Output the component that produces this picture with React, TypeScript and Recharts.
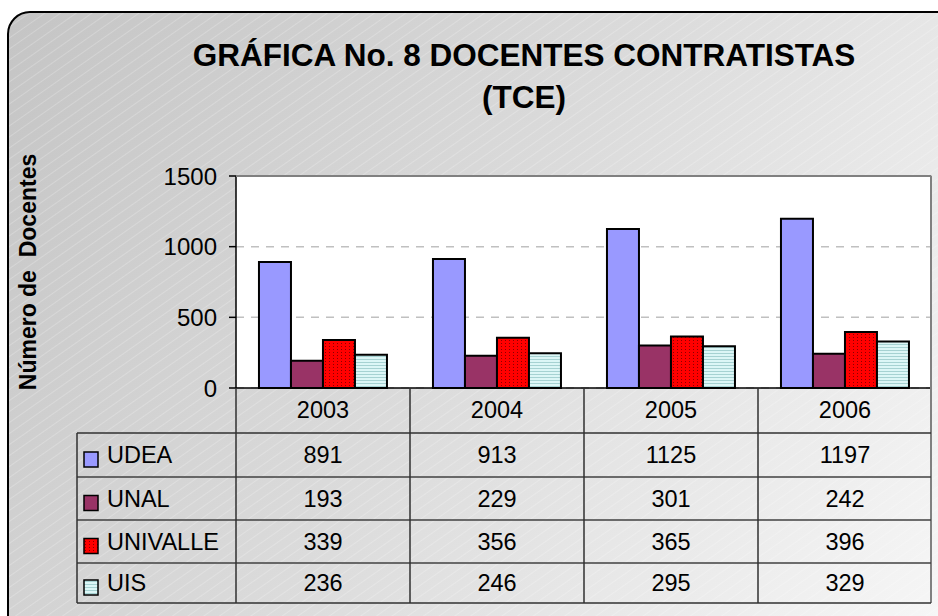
import React from 'react';
import { BarChart, Bar, XAxis, YAxis, CartesianGrid } from 'recharts';

const years = ['2003', '2004', '2005', '2006'];
const udea = [891, 913, 1125, 1197];
const unal = [193, 229, 301, 242];
const univalle = [339, 356, 365, 396];
const uis = [236, 246, 295, 329];
const yTicks = [0, 500, 1000, 1500];

const series = [
  { key: 'UDEA', values: udea, fill: '#9999ff' },
  { key: 'UNAL', values: unal, fill: '#993366' },
  { key: 'UNIVALLE', values: univalle, fill: 'url(#dots)' },
  { key: 'UIS', values: uis, fill: 'url(#hlines)' },
];

const data = years.map((year, i) => {
  const row: Record<string, string | number> = { year };
  series.forEach((s) => (row[s.key] = s.values[i]));
  return row;
});

const W = 938;
const H = 616;
const PLOT_L = 236;
const PLOT_R = 932;
const PLOT_T = 176;
const PLOT_B = 388;
const Y_W = 60;
const X_H = 30;
const TABLE_L = 77;
const ROW_Y = [433, 477, 520, 563, 603];
const FONT = '"Liberation Sans", Arial, sans-serif';

const band = (PLOT_R - PLOT_L) / years.length;

const YearTick = (props: any) => (
  <text
    x={props.x}
    y={props.y + 22}
    textAnchor="middle"
    dominantBaseline="central"
    fontFamily={FONT}
    fontSize={23.5}
    fill="#000"
  >
    {props.payload.value}
  </text>
);

const Background = () => (
  <svg width={W} height={H} style={{ position: 'absolute', left: 0, top: 0 }}>
    <defs>
      <linearGradient id="bg" gradientUnits="userSpaceOnUse" x1={0} y1={0} x2={W} y2={H}>
        <stop offset="0" stopColor="#c4c4c4" />
        <stop offset="0.5" stopColor="#dbdbdb" />
        <stop offset="1" stopColor="#f6f6f6" />
      </linearGradient>
      <pattern id="stripes" width={16} height={9} patternUnits="userSpaceOnUse" patternTransform="rotate(-35)">
        <line x1={0} y1={0.5} x2={16} y2={0.5} stroke="#ffffff" strokeOpacity={0.22} strokeWidth={1} />
      </pattern>
      <pattern id="dots" width={4} height={3} patternUnits="userSpaceOnUse">
        <rect width={4} height={3} fill="#ff0000" />
        <rect x={1} y={1} width={1} height={1} fill="#8a0000" />
      </pattern>
      <pattern id="hlines" width={4} height={3} patternUnits="userSpaceOnUse">
        <rect width={4} height={3} fill="#dcf6f6" />
        <rect x={0} y={2} width={4} height={1} fill="#a6d2d2" />
      </pattern>
    </defs>
    <rect x={8} y={12} width={W + 20} height={H + 20} rx={22} fill="url(#bg)" />
    <rect x={8} y={12} width={W + 20} height={H + 20} rx={22} fill="url(#stripes)" stroke="#000" strokeWidth={2} />
    <text x={524} y={55} textAnchor="middle" dominantBaseline="central" fontFamily={FONT} fontWeight="bold" fontSize={31.5} fill="#000">
      GRÁFICA No. 8 DOCENTES CONTRATISTAS
    </text>
    <text x={524} y={97} textAnchor="middle" dominantBaseline="central" fontFamily={FONT} fontWeight="bold" fontSize={31.5} fill="#000">
      (TCE)
    </text>
    <text
      x={28}
      y={272}
      transform="rotate(-90 28 272)"
      textAnchor="middle"
      dominantBaseline="central"
      fontFamily={FONT}
      fontWeight="bold"
      fontSize={23}
      fill="#000"
      style={{ whiteSpace: 'pre' }}
    >
      {'Número de  Docentes'}
    </text>
  </svg>
);

const DataTable = () => (
  <svg width={W} height={H} style={{ position: 'absolute', left: 0, top: 0, pointerEvents: 'none' }}>
    {/* plot frame top/right */}
    <line x1={PLOT_L} y1={PLOT_T} x2={PLOT_R - 1} y2={PLOT_T} stroke="#808080" strokeWidth={2} />
    <line x1={PLOT_R - 1} y1={PLOT_T} x2={PLOT_R - 1} y2={ROW_Y[4]} stroke="#808080" strokeWidth={2} />
    {/* row lines */}
    {ROW_Y.map((y, i) => (
      <line key={'r' + i} x1={TABLE_L} y1={y} x2={PLOT_R - 1} y2={y} stroke={i === 0 || i === 4 ? '#303030' : '#404040'} strokeWidth={1.5} />
    ))}
    <line x1={TABLE_L} y1={ROW_Y[0]} x2={TABLE_L} y2={ROW_Y[4]} stroke="#303030" strokeWidth={1.5} />
    {years.map((_, i) => (
      <line key={'c' + i} x1={PLOT_L + i * band} y1={PLOT_B} x2={PLOT_L + i * band} y2={ROW_Y[4]} stroke="#303030" strokeWidth={1.5} />
    ))}
    {series.map((s, r) => {
      const cy = (ROW_Y[r] + ROW_Y[r + 1]) / 2;
      return (
        <g key={s.key}>
          <rect x={84} y={cy - 3} width={14} height={15} fill={s.fill} stroke="#000" strokeWidth={1.5} />
          <text x={107} y={cy} dominantBaseline="central" fontFamily={FONT} fontSize={23.5} fill="#000">
            {s.key}
          </text>
          {s.values.map((v, i) => (
            <text
              key={i}
              x={PLOT_L + (i + 0.5) * band}
              y={cy}
              textAnchor="middle"
              dominantBaseline="central"
              fontFamily={FONT}
              fontSize={23.5}
              fill="#000"
            >
              {v}
            </text>
          ))}
        </g>
      );
    })}
  </svg>
);

export default function App() {
  return (
    <div style={{ position: 'absolute', left: 0, top: 0, width: W, height: H, overflow: 'hidden' }}>
      <Background />
      <div style={{ position: 'absolute', left: 0, top: 0 }}>
        <BarChart
          width={W}
          height={H}
          data={data}
          margin={{ top: PLOT_T, right: W - PLOT_R, bottom: H - PLOT_B - X_H, left: PLOT_L - Y_W }}
          barCategoryGap="13.2%"
          barGap={0}
        >
          <CartesianGrid vertical={false} fill="#ffffff" stroke="#c0c0c0" strokeWidth={1.5} strokeDasharray="8 7" />
          <XAxis
            dataKey="year"
            height={X_H}
            tickLine={false}
            tickSize={0}
            tickMargin={0}
            axisLine={{ stroke: '#000', strokeWidth: 1.5 }}
            tick={<YearTick />}
          />
          <YAxis
            width={Y_W}
            domain={[0, 1500]}
            ticks={yTicks}
            interval={0}
            tickSize={7}
            tickMargin={12}
            axisLine={{ stroke: '#000', strokeWidth: 1.5 }}
            tickLine={{ stroke: '#000', strokeWidth: 1.5 }}
            tick={{ fontFamily: FONT, fontSize: 24, fill: '#000' }}
          />
          {series.map((s) => (
            <Bar key={s.key} dataKey={s.key} fill={s.fill} stroke="#000" strokeWidth={2} isAnimationActive={false} />
          ))}
        </BarChart>
      </div>
      <DataTable />
    </div>
  );
}
